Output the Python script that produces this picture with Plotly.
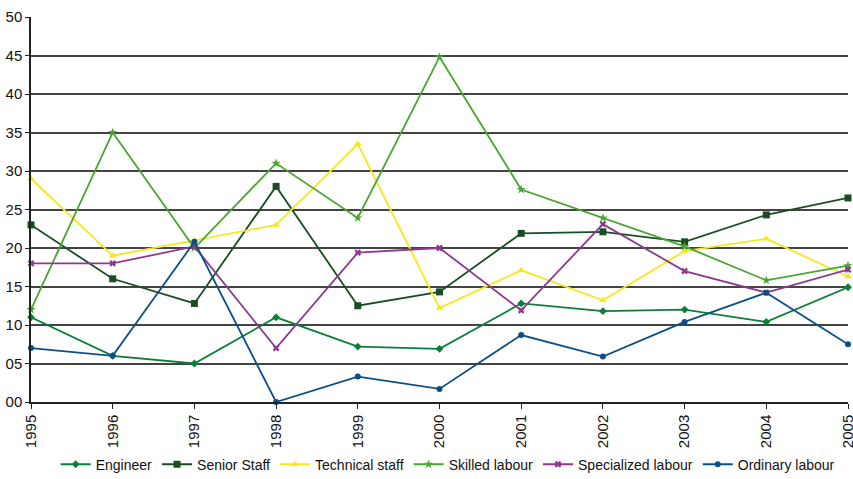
import plotly.graph_objects as go

years = [1995, 1996, 1997, 1998, 1999, 2000, 2001, 2002, 2003, 2004, 2005]

engineer = [11, 6, 5, 11, 7.2, 6.9, 12.8, 11.8, 12, 10.4, 14.9]
senior_staff = [23, 16, 12.8, 28, 12.5, 14.3, 21.9, 22.1, 20.8, 24.3, 26.5]
technical_staff = [29, 19, 21, 23, 33.5, 12.2, 17.1, 13.2, 19.6, 21.2, 16.3]
skilled_labour = [12, 35, 20, 31, 23.9, 44.8, 27.6, 23.9, 20.2, 15.8, 17.7]
specialized_labour = [18, 18, 20.2, 7, 19.4, 20.0, 11.9, 23.1, 17.0, 14.2, 17.2]
ordinary_labour = [7, 6, 20.8, 0, 3.3, 1.7, 8.7, 5.9, 10.4, 14.2, 7.5]

y_ticks = [0, 5, 10, 15, 20, 25, 30, 35, 40, 45, 50]
y_tick_labels = ["00", "05", "10", "15", "20", "25", "30", "35", "40", "45", "50"]

series = [
    ("Engineer", engineer, "#0b7f3a", "diamond", 6),
    ("Senior Staff", senior_staff, "#1b4d25", "square", 7),
    ("Technical staff", technical_staff, "#f7e71c", "triangle-up", 7),
    ("Skilled labour", skilled_labour, "#4aa632", "star", 7),
    ("Specialized labour", specialized_labour, "#8b3a8f", "x", 6),
    ("Ordinary labour", ordinary_labour, "#0c4f86", "circle", 6),
]

fig = go.Figure()

for name, values, color, symbol, size in series:
    fig.add_trace(
        go.Scatter(
            x=years,
            y=values,
            mode="lines+markers",
            name=name,
            line=dict(color=color, width=1.8),
            marker=dict(symbol=symbol, size=size, color=color),
            cliponaxis=False,
        )
    )

fig.update_layout(
    width=853,
    height=479,
    margin=dict(l=31, r=5, t=17, b=77),
    paper_bgcolor="#ffffff",
    plot_bgcolor="#ffffff",
    font=dict(family="Liberation Sans, Arial, sans-serif", size=15, color="#111111"),
    showlegend=True,
    legend=dict(
        orientation="h",
        x=0.51,
        xanchor="center",
        yref="container",
        y=0.03,
        yanchor="middle",
        font=dict(size=14, color="#111111"),
        bgcolor="rgba(255,255,255,0)",
        itemwidth=30,
    ),
    xaxis=dict(
        range=[1995, 2005],
        tickvals=years,
        ticktext=[str(y) for y in years],
        tickangle=-90,
        tickfont=dict(size=15),
        ticklabeloverflow="allow",
        automargin=False,
        showgrid=False,
        showline=True,
        linecolor="#222222",
        linewidth=1.5,
        ticks="outside",
        ticklen=5,
        tickcolor="#222222",
        zeroline=False,
    ),
    yaxis=dict(
        range=[0, 50],
        tickvals=y_ticks,
        ticktext=y_tick_labels,
        tickfont=dict(size=15),
        automargin=False,
        showgrid=True,
        gridcolor="#444444",
        gridwidth=1.5,
        showline=True,
        linecolor="#222222",
        linewidth=1.5,
        ticks="outside",
        ticklen=4,
        tickcolor="#222222",
        zeroline=False,
    ),
)

# the page's default body margin would shift the chart by 8px
fig.write_html(
    "out.html",
    config={"displayModeBar": False},
    post_script="document.body.style.margin = '0';",
)
